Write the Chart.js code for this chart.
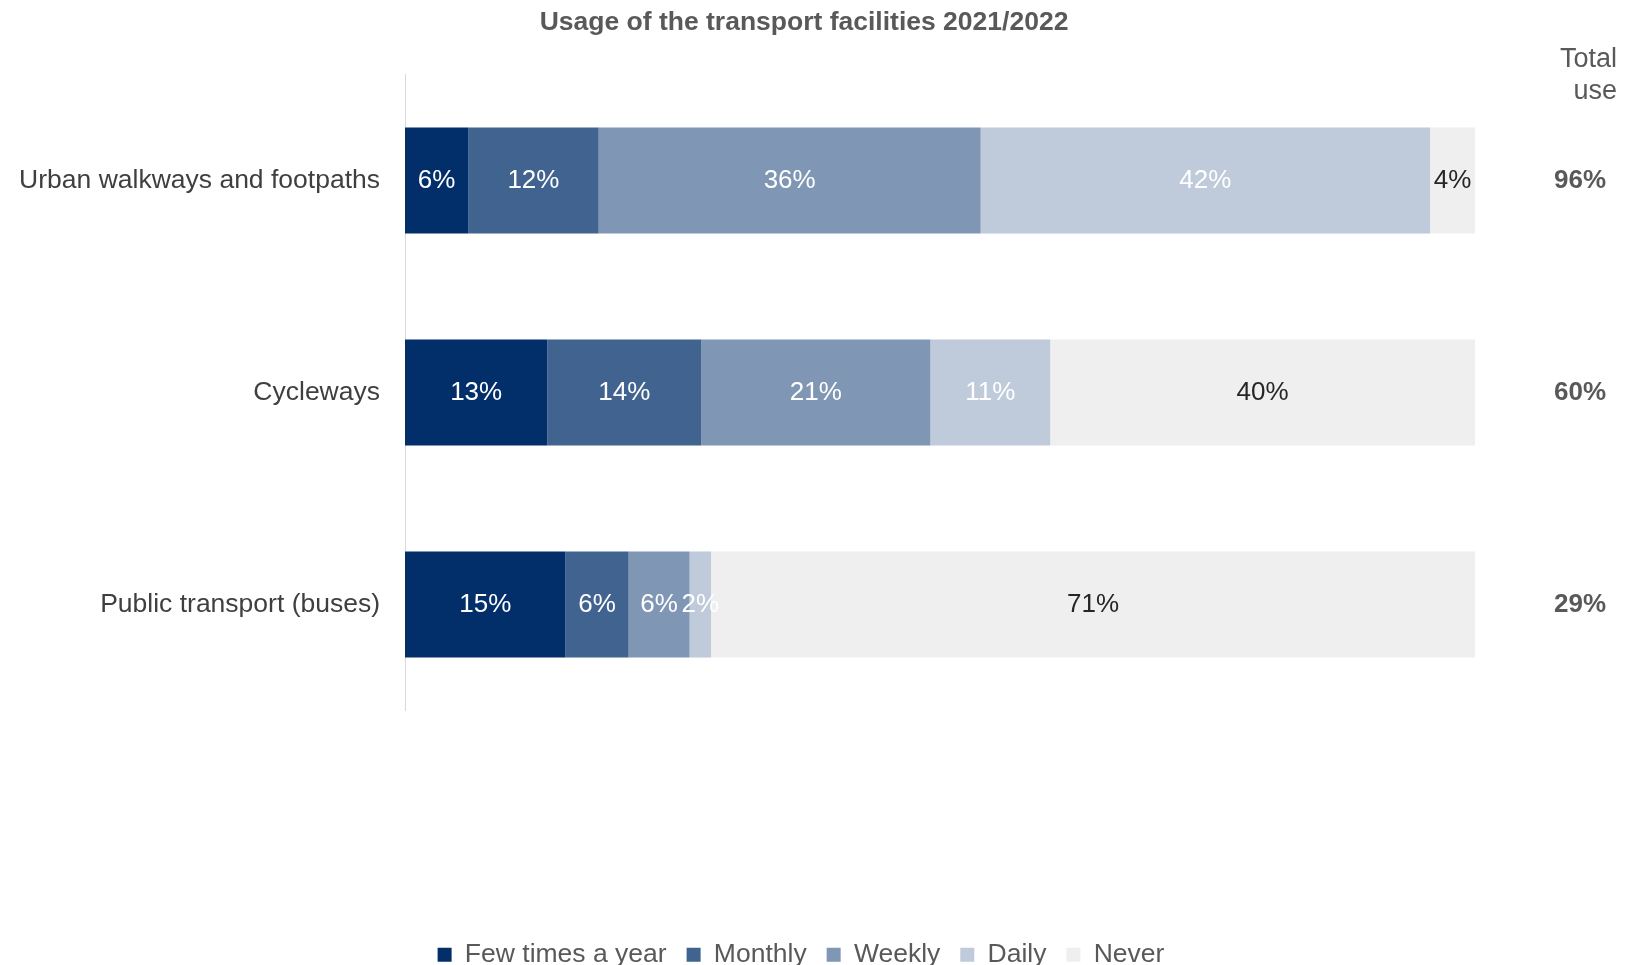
<!DOCTYPE html>
<html lang="en">
<head>
    <meta charset="UTF-8">
    <title>Usage of the transport facilities 2021/2022</title>
    <style>
        body { margin: 0; background: #fff; }
        .chart-box { width: 1641px; height: 965px; }
    </style>
</head>
<body>
    <div class="chart-box">
        <canvas id="myChart"></canvas>
    </div>

<script src="https://cdn.jsdelivr.net/npm/chart.js"></script>
<script>
    // categorias e valores (em %)
    const categories = ['Urban walkways and footpaths', 'Cycleways', 'Public transport (buses)'];
    const fewTimes = [5.9, 13.3, 15.0];
    const monthly = [12.2, 14.4, 5.9];
    const weekly = [35.7, 21.4, 5.7];
    const daily = [42.0, 11.2, 2.0];
    const never = [4.2, 39.7, 71.4];
    const totalUse = [96, 60, 29];

    const seriesNames = ['Few times a year', 'Monthly', 'Weekly', 'Daily', 'Never'];
    const seriesColors = ['#022F6A', '#41638F', '#7F96B4', '#BFCADA', '#EFEFEF'];
    const labelColors = ['#ffffff', '#ffffff', '#ffffff', '#ffffff', '#262626'];
    const fontFamily = '"Liberation Sans", Arial, sans-serif';

    const seriesData = [fewTimes, monthly, weekly, daily, never];

    // rótulos dentro das barras + título + coluna "Total use"
    const extras = {
        id: 'extras',
        afterDatasetsDraw(chart) {
            const c = chart.ctx;
            c.save();
            c.textBaseline = 'middle';
            c.textAlign = 'center';
            c.font = '26px ' + fontFamily;
            chart.data.datasets.forEach((ds, i) => {
                const meta = chart.getDatasetMeta(i);
                meta.data.forEach((bar, j) => {
                    const p = bar.getProps(['x', 'y', 'base'], true);
                    c.fillStyle = labelColors[i];
                    c.fillText(Math.round(ds.data[j]) + '%', (p.x + p.base) / 2, p.y);
                });
            });

            // título
            c.fillStyle = '#595959';
            c.font = 'bold 26.5px ' + fontFamily;
            c.fillText('Usage of the transport facilities 2021/2022', 804, 23);

            // Total use
            c.textAlign = 'right';
            c.font = '27px ' + fontFamily;
            c.fillText('Total', 1617, 60);
            c.fillText('use', 1617, 92);
            c.textAlign = 'center';
            c.font = 'bold 26px ' + fontFamily;
            const yScale = chart.scales.y;
            totalUse.forEach((v, j) => {
                c.fillText(v + '%', 1580, yScale.getPixelForValue(j));
            });
            c.restore();
        }
    };

    const ctx = document.getElementById('myChart');
    new Chart(ctx, {
        type: 'bar',
        data: {
            labels: categories,
            datasets: seriesData.map((d, i) => ({
                label: seriesNames[i],
                data: d,
                yAxisID: 'y',
                backgroundColor: seriesColors[i],
                borderWidth: 0,
                categoryPercentage: 0.5,
                barPercentage: 1.0
            }))
        },
        options: {
            indexAxis: 'y',
            responsive: true,
            maintainAspectRatio: false,
            animation: false,
            layout: {
                padding: { top: 74.5, right: 39, left: 0, bottom: -13 }
            },
            scales: {
                x: {
                    stacked: true,
                    min: 0,
                    max: 100,
                    grid: { display: false, drawTicks: false },
                    border: { display: false },
                    ticks: { display: false },
                    afterFit: (s) => { s.height = 211; }
                },
                y: {
                    stacked: true,
                    grid: { display: false, drawTicks: false },
                    border: { display: true, color: '#D9D9D9', width: 1 },
                    ticks: {
                        color: '#3F3F3F',
                        padding: 25,
                        font: { size: 26.5, family: fontFamily }
                    },
                    afterFit: (s) => { s.width = 405; }
                },
                // espaço reservado para a coluna "Total use"
                y2: {
                    type: 'category',
                    position: 'right',
                    grid: { display: false, drawTicks: false },
                    border: { display: false },
                    ticks: { display: false },
                    afterFit: (s) => { s.width = 127; }
                }
            },
            plugins: {
                legend: {
                    position: 'bottom',
                    labels: {
                        color: '#595959',
                        boxWidth: 14,
                        boxHeight: 14,
                        padding: 20,
                        font: { size: 26.5, family: fontFamily }
                    }
                },
                tooltip: { enabled: false }
            }
        },
        plugins: [extras]
    });
</script>
</body>
</html>
